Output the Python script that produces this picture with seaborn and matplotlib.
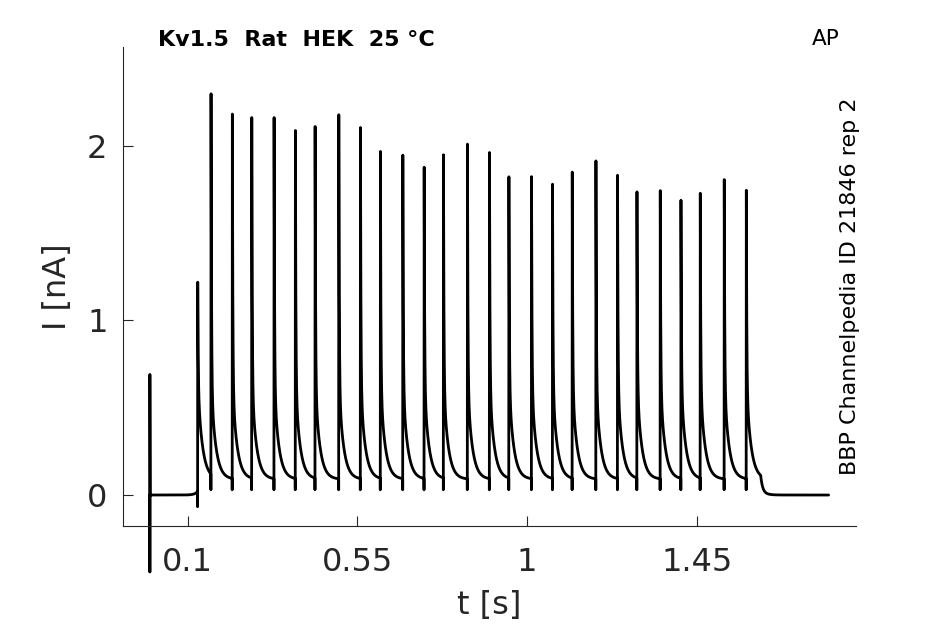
import numpy as np
import pandas as pd
import matplotlib.pyplot as plt
import seaborn as sns

# tiempos de cada pulso (s) y pico de corriente (nA)
spike_t = [0.1265, 0.1618, 0.2183, 0.2698, 0.329, 0.3855, 0.4378, 0.5006, 0.558,
           0.611, 0.6704, 0.727, 0.7782, 0.8418, 0.9002, 0.9517, 1.0117, 1.0674,
           1.1197, 1.1825, 1.2398, 1.2913, 1.3531, 1.408, 1.4592, 1.5228, 1.5813]
spike_peak = [1.218, 2.296, 2.180, 2.160, 2.160, 2.086, 2.109, 2.176, 2.103,
              1.966, 1.945, 1.876, 1.947, 2.008, 1.960, 1.821, 1.822, 1.779,
              1.848, 1.912, 1.830, 1.735, 1.742, 1.687, 1.727, 1.805, 1.744]
spike_dip = [-0.067] + [0.03] * 26

# artefacto al inicio, nivel entre pulsos y fin del registro
artifact = [0.0, -0.44, 0.69, 0.0]
plateau = 0.09
slow_amp = 0.55
pre_rise = 0.02
t_end = 1.80

xticks = [0.1, 0.55, 1, 1.45]
xticklabels = ["0.1", "0.55", "1", "1.45"]
yticks = [0, 1, 2]

#armamos la traza
dt = 0.0002
rise = 0.0004
tt = [0.0, 0.0, 0.0]
yy = artifact[:3]
t_pre = np.arange(0.0005, spike_t[0], dt)
tt += list(t_pre)
yy += list(pre_rise * np.exp(-(spike_t[0] - t_pre) / 0.008))

for i, (t0, pk, dip) in enumerate(zip(spike_t, spike_peak, spike_dip)):
    t_next = spike_t[i + 1] if i + 1 < len(spike_t) else t_end
    s = np.arange(0.0, t_next - t0 - rise, dt)
    if i + 1 < len(spike_t):
        plat = np.full_like(s, plateau)
    else:
        plat = plateau * np.exp(-np.clip(s - 0.038, 0, None) / 0.005)
    fast = pk - plateau - slow_amp
    y = plat + fast * np.exp(-s / 0.0012) + slow_amp * np.exp(-s / 0.012)
    tt += [t0] + list(t0 + rise + s)
    yy += [dip] + list(y)

df = pd.DataFrame({"t": tt, "I": yy})

sns.set_theme(style="ticks")
fig = plt.figure(figsize=(9.45, 6.24), dpi=100)
ax = fig.add_axes([0.130, 0.157, 0.776, 0.768])

sns.lineplot(data=df, x="t", y="I", estimator=None, sort=False,
             color="black", linewidth=2.0, ax=ax)
ax.lines[0].set_clip_on(False)

ax.set_xlim(-0.0717, 1.873)
ax.set_ylim(-0.1775, 2.565)
ax.set_xticks(xticks)
ax.set_xticklabels(xticklabels)
ax.set_yticks(yticks)
sns.despine(ax=ax)
for sp in ["left", "bottom"]:
    ax.spines[sp].set_color("#262626")
    ax.spines[sp].set_linewidth(0.8)
ax.tick_params(axis="both", direction="in", length=7, width=0.8,
               colors="#262626", labelsize=23)
ax.tick_params(axis="x", pad=15)
ax.tick_params(axis="y", pad=11)

ax.set_xlabel("t [s]", fontsize=23, color="#262626", labelpad=9)
ax.set_ylabel("I [nA]", fontsize=23, color="#262626", labelpad=10)

ax.text(0.048, 1.015, "Kv1.5  Rat  HEK  25 °C", transform=ax.transAxes,
        fontsize=16, fontweight="bold", ha="left", va="center", color="black")
fig.text(0.874, 0.937, "AP", fontsize=15.5, ha="center", va="center", color="black")
fig.text(0.899, 0.542, "BBP Channelpedia ID 21846 rep 2", fontsize=16,
         rotation=90, ha="center", va="center", color="black")

fig.savefig("out.png", dpi=100)
